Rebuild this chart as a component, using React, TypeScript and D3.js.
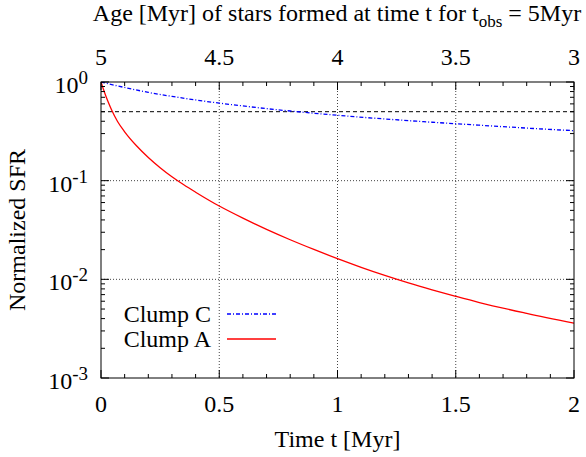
import React from "react";
import * as d3 from "d3";

// values
const timeC = [0, 0.05, 0.1, 0.2, 0.3, 0.4, 0.5, 0.6, 0.7, 0.8, 1.0, 1.2, 1.4, 1.6, 1.8, 2.0];
const sfrC = [1, 0.935, 0.88, 0.785, 0.715, 0.658, 0.611, 0.572, 0.537, 0.508, 0.46, 0.422, 0.391, 0.365, 0.341, 0.321];

const timeA = [0, 0.01, 0.02, 0.03, 0.046, 0.07, 0.1, 0.15, 0.2, 0.25, 0.3, 0.35, 0.4, 0.5, 0.6, 0.7, 0.8, 0.9, 1.0, 1.1, 1.2, 1.3, 1.4, 1.5, 1.6, 1.8, 2.0];
const sfrA = [1, 0.847, 0.724, 0.631, 0.513, 0.398, 0.313, 0.226, 0.172, 0.1355, 0.1096, 0.0908, 0.0764, 0.0553, 0.0417, 0.0321, 0.0252, 0.0201, 0.0162, 0.01324, 0.01096, 0.0092, 0.00783, 0.00673, 0.00582, 0.00452, 0.00359];

const halfLevel = 0.5;

const xTicks = [0, 0.5, 1, 1.5, 2];
const xTickLabels = ["0", "0.5", "1", "1.5", "2"];
const x2Ticks = [5, 4.5, 4, 3.5, 3];
const x2TickLabels = ["5", "4.5", "4", "3.5", "3"];
const yTicks = [1, 0.1, 0.01, 0.001];
const yExponents = ["0", "-1", "-2", "-3"];

const seriesNames = ["Clump C", "Clump A"];

const font = "Liberation Serif, DejaVu Serif, serif";

function App() {
  const w = 586,
    h = 457;
  const left = 101,
    right = 574,
    top = 82,
    bottom = 378;

  const x = d3.scaleLinear().domain([0, 2]).range([left, right]);
  const x2 = d3.scaleLinear().domain([5, 3]).range([left, right]);
  const y = d3.scaleLog().domain([0.001, 1]).range([bottom, top]);

  const line = d3
    .line<[number, number]>()
    .x(d => x(d[0]))
    .y(d => y(d[1]))
    .curve(d3.curveMonotoneX);

  const pathC = line(timeC.map((t, i) => [t, sfrC[i]]));
  const pathA = line(timeA.map((t, i) => [t, sfrA[i]]));

  const minorX = d3.range(0, 2.0001, 0.1);
  const minorY: number[] = [];
  [0.001, 0.01, 0.1].forEach(dec => {
    for (let k = 2; k <= 9; k++) minorY.push(dec * k);
  });

  const gridX = xTicks.slice(1, -1).map((d, i) => (
    <line key={"gx" + i} x1={x(d)} x2={x(d)} y1={top} y2={bottom}
      stroke="#444" strokeWidth={1} strokeDasharray="1,2" />
  ));
  const gridY = yTicks.slice(1, -1).map((d, i) => (
    <line key={"gy" + i} x1={left} x2={right} y1={y(d)} y2={y(d)}
      stroke="#444" strokeWidth={1} strokeDasharray="1,2" />
  ));

  const xTickMarks = minorX.map((d, i) => {
    const major = Math.abs(d * 2 - Math.round(d * 2)) < 1e-6;
    const len = major ? 8 : 4;
    return (
      <g key={"xt" + i}>
        <line x1={x(d)} x2={x(d)} y1={bottom} y2={bottom - len} stroke="#000" />
        <line x1={x(d)} x2={x(d)} y1={top} y2={top + len} stroke="#000" />
      </g>
    );
  });

  const yTickMarks = yTicks.concat(minorY).map((d, i) => {
    const len = i < yTicks.length ? 8 : 4;
    return (
      <g key={"yt" + i}>
        <line x1={left} x2={left + len} y1={y(d)} y2={y(d)} stroke="#000" />
        <line x1={right} x2={right - len} y1={y(d)} y2={y(d)} stroke="#000" />
      </g>
    );
  });

  const xLabels = xTicks.map((d, i) => (
    <text key={"xl" + i} x={x(d)} y={412} textAnchor="middle">{xTickLabels[i]}</text>
  ));
  const x2Labels = x2Ticks.map((d, i) => (
    <text key={"x2l" + i} x={x2(d)} y={65} textAnchor="middle">{x2TickLabels[i]}</text>
  ));
  const yLabels = yTicks.map((d, i) => (
    <text key={"yl" + i} x={88} y={y(d) + 11} textAnchor="end">
      10<tspan dy={-9} fontSize={19}>{yExponents[i]}</tspan>
    </text>
  ));

  return (
    <div style={{ position: "absolute", left: 0, top: 0 }}>
      <svg width={w} height={h}
        style={{ display: "block", background: "#fff", fontFamily: font, fontSize: 24 }}
        fill="#000">
        <defs>
          <clipPath id="plotArea">
            <rect x={left} y={top} width={right - left} height={bottom - top} />
          </clipPath>
        </defs>
        {gridX}
        {gridY}
        <line x1={left} x2={right} y1={y(halfLevel)} y2={y(halfLevel)}
          stroke="#000" strokeWidth={1} strokeDasharray="4,3" />
        <g clipPath="url(#plotArea)">
          <path d={pathC || ""} fill="none" stroke="#0000ff" strokeWidth={1.3}
            strokeDasharray="4,2,1,2" />
          <path d={pathA || ""} fill="none" stroke="#ff0000" strokeWidth={1.3} />
        </g>
        {xTickMarks}
        {yTickMarks}
        <rect x={left} y={top} width={right - left} height={bottom - top}
          fill="none" stroke="#000" strokeWidth={1} />
        {xLabels}
        {x2Labels}
        {yLabels}
        <text x={(left + right) / 2} y={447} textAnchor="middle">Time t [Myr]</text>
        <text transform={`translate(25,${(top + bottom) / 2}) rotate(-90)`} textAnchor="middle">
          Normalized SFR
        </text>
        <text x={337} y={21} textAnchor="middle">
          Age [Myr] of stars formed at time t for t
          <tspan dy={6} fontSize={17}>obs</tspan>
          <tspan dy={-6}> = 5Myr</tspan>
        </text>
        <g>
          <text x={211} y={322} textAnchor="end">{seriesNames[0]}</text>
          <line x1={227} x2={276} y1={314} y2={314} stroke="#0000ff" strokeWidth={1.3}
            strokeDasharray="4,2,1,2" />
          <text x={211} y={347} textAnchor="end">{seriesNames[1]}</text>
          <line x1={227} x2={276} y1={339} y2={339} stroke="#ff0000" strokeWidth={1.3} />
        </g>
      </svg>
    </div>
  );
}

export default App;
